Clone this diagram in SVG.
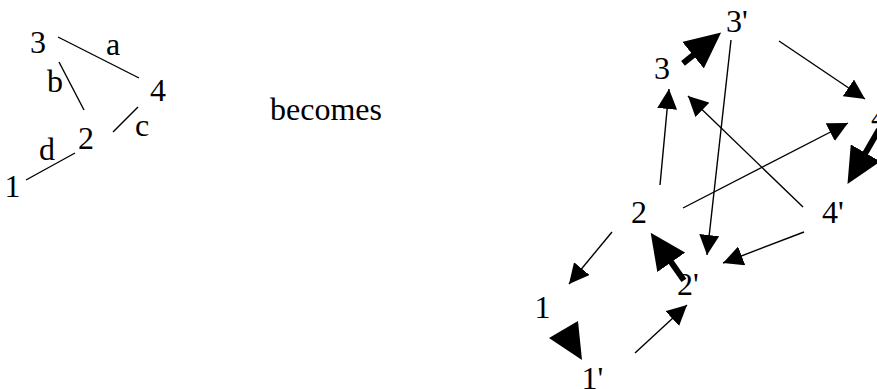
<svg xmlns="http://www.w3.org/2000/svg" width="877" height="389" viewBox="0 0 877 389">
<style>
.e{stroke:#000;stroke-width:1.4;fill:none}
.t{stroke:#000;stroke-width:1.4;fill:none;marker-end:url(#thin)}
.k{stroke:#000;stroke-width:6;fill:none;marker-end:url(#thick)}
</style>
<defs>
<marker id="thin" viewBox="0 0 20 20" refX="20" refY="10" markerWidth="20" markerHeight="20" orient="auto" markerUnits="userSpaceOnUse"><path d="M0,0 L20,10 L0,20 Z" fill="#000"/></marker>
<marker id="thick" viewBox="0 0 36 34" refX="1" refY="17" markerWidth="36" markerHeight="34" orient="auto" markerUnits="userSpaceOnUse"><path d="M0,0 L36,17 L0,34 Z" fill="#000"/></marker>
</defs>
<rect width="877" height="389" fill="#fff"/>
<g font-family="'Liberation Serif', 'DejaVu Serif', serif" font-size="32" fill="#000">
<g id="left-nodes">
<g id="L3"><text x="30" y="53">3</text></g>
<g id="L4"><text x="150" y="101">4</text></g>
<g id="L2"><text x="78" y="149">2</text></g>
<g id="L1"><text x="4.5" y="197">1</text></g>
</g>
<g id="left-edges">
<line class="e" x1="58" y1="37" x2="139" y2="78"/>
<line class="e" x1="59" y1="62" x2="84" y2="110"/>
<line class="e" x1="113" y1="132" x2="138" y2="107"/>
<line class="e" x1="26" y1="180" x2="75" y2="153"/>
<text x="106" y="55">a</text>
<text x="47" y="92">b</text>
<text x="135" y="136">c</text>
<text x="39" y="160">d</text>
</g>
<g id="becomes"><text x="270" y="120">becomes</text></g>
<g id="R3p"><text x="726" y="32">3'</text></g>
<g id="R3"><text x="654" y="79">3</text></g>
<g id="R4"><text x="871" y="128">4</text></g>
<g id="R4p"><text x="822" y="223">4'</text></g>
<g id="R2"><text x="631" y="223">2</text></g>
<g id="R2p"><text x="677" y="295">2'</text></g>
<g id="R1"><text x="534.5" y="318">1</text></g>
<g id="R1p"><text x="581.5" y="389">1'</text></g>
</g>
<g id="connectors">
<line class="t" x1="731" y1="40" x2="707" y2="255"/>
<line class="t" x1="779" y1="41" x2="865" y2="99"/>
<line class="t" x1="803" y1="207" x2="688" y2="96"/>
<line class="t" x1="660" y1="185" x2="669" y2="89"/>
<line class="t" x1="683" y1="208" x2="848" y2="123"/>
<line class="t" x1="612" y1="232" x2="569" y2="284"/>
<line class="t" x1="804" y1="232" x2="723" y2="263"/>
<line class="t" x1="635" y1="353" x2="687" y2="305"/>
<line class="k" x1="683" y1="63.4" x2="693.9" y2="54.6"/>
<line class="k" x1="879" y1="129.6" x2="865" y2="153.8"/>
<line class="k" x1="683.9" y1="280.4" x2="670.7" y2="261.5"/>
<polygon points="549,338 578,321 582,360" fill="#000"/>
</g>
</svg>
